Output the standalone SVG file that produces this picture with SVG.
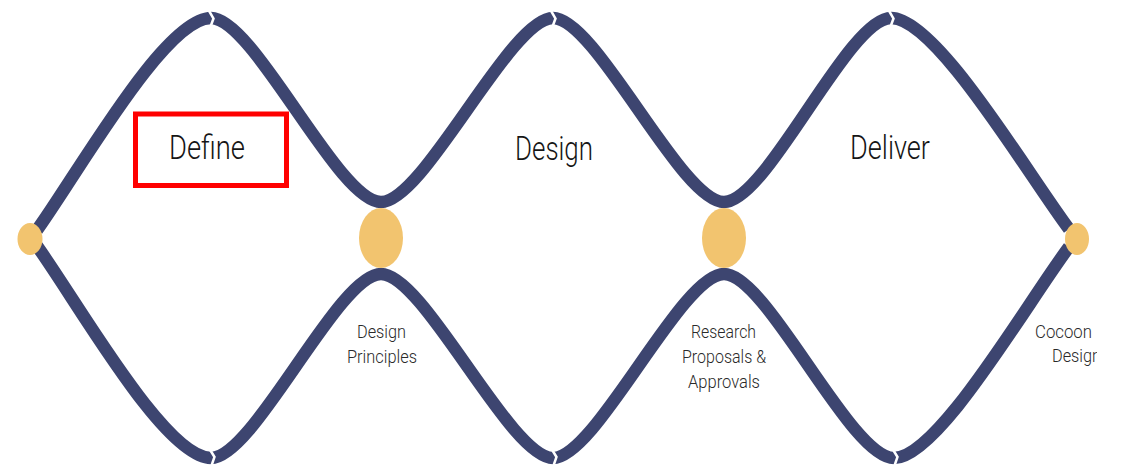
<svg xmlns="http://www.w3.org/2000/svg" width="1124" height="468" viewBox="0 0 1124 468">
<defs>
<style>
.wave{fill:none;stroke:#3d4570;stroke-width:12.5;stroke-linecap:butt}
.notch{fill:none;stroke:#ffffff;stroke-width:2.5;stroke-linejoin:miter}
.node{fill:#f2c46f}
.big{font-family:Roboto,"Liberation Sans",sans-serif;font-weight:300;font-size:34px;fill:#151515}
.small{font-family:Roboto,"Liberation Sans",sans-serif;font-weight:300;font-size:19px;fill:#2a2a2a}
.box{fill:none;stroke:#ff0000;stroke-width:5}
</style>
<clipPath id="edge"><rect x="0" y="0" width="1097" height="468"/></clipPath>
</defs>
<rect x="0" y="0" width="1124" height="468" fill="#ffffff"/>
<g id="connectors">
<path class="wave" d="M37,230 C80,170 165,18 211,18 C254,18 338,202 381,202 C424,202 510,18 553,18 C596,18 681,202 724,202 C767,202 848,18 891,18 C936,18 1025,170 1069,229"/>
<path class="wave" d="M37,246 C80,306 165,458 211,458 C254,458 338,274 381,274 C424,274 510,458 553,458 C596,458 681,274 724,274 C767,274 850,458 894,458 C938,458 1025,306 1069,247"/>
<polyline class="notch" points="208,9 213.5,18.5 210,28"/>
<polyline class="notch" points="550,9 555.5,18.5 552,28"/>
<polyline class="notch" points="888,9 893.5,18.5 890,28"/>
<polyline class="notch" points="209,448 214.5,457 211,467"/>
<polyline class="notch" points="551,448 556.5,457 553,467"/>
<polyline class="notch" points="892,448 897.5,457 894,467"/>
</g>
<g id="node-start"><ellipse class="node" cx="30" cy="239" rx="12.5" ry="16"/></g>
<g id="node-design-principles">
<ellipse class="node" cx="381" cy="238" rx="22" ry="30"/>
<text class="small" x="357" y="338" textLength="49" lengthAdjust="spacingAndGlyphs">Design</text>
<text class="small" x="347" y="363" textLength="70" lengthAdjust="spacingAndGlyphs">Principles</text>
</g>
<g id="node-research">
<ellipse class="node" cx="724" cy="238" rx="22" ry="30"/>
<text class="small" x="691" y="338" textLength="65" lengthAdjust="spacingAndGlyphs">Research</text>
<text class="small" x="682" y="363" textLength="84" lengthAdjust="spacingAndGlyphs">Proposals &amp;</text>
<text class="small" x="688" y="388" textLength="72" lengthAdjust="spacingAndGlyphs">Approvals</text>
</g>
<g id="node-end">
<ellipse class="node" cx="1077" cy="239" rx="12" ry="16"/>
<g clip-path="url(#edge)">
<text class="small" x="1035" y="338" textLength="57" lengthAdjust="spacingAndGlyphs">Cocoon</text>
<text class="small" x="1052" y="362" textLength="49" lengthAdjust="spacingAndGlyphs">Design</text>
</g>
</g>
<g id="phase-define">
<rect class="box" x="135.5" y="114" width="151" height="71.5"/>
<text class="big" x="169" y="159" textLength="76" lengthAdjust="spacingAndGlyphs">Define</text>
</g>
<g id="phase-design">
<text class="big" x="515" y="160" textLength="78" lengthAdjust="spacingAndGlyphs">Design</text>
</g>
<g id="phase-deliver">
<text class="big" x="850" y="159" textLength="80" lengthAdjust="spacingAndGlyphs">Deliver</text>
</g>
</svg>
